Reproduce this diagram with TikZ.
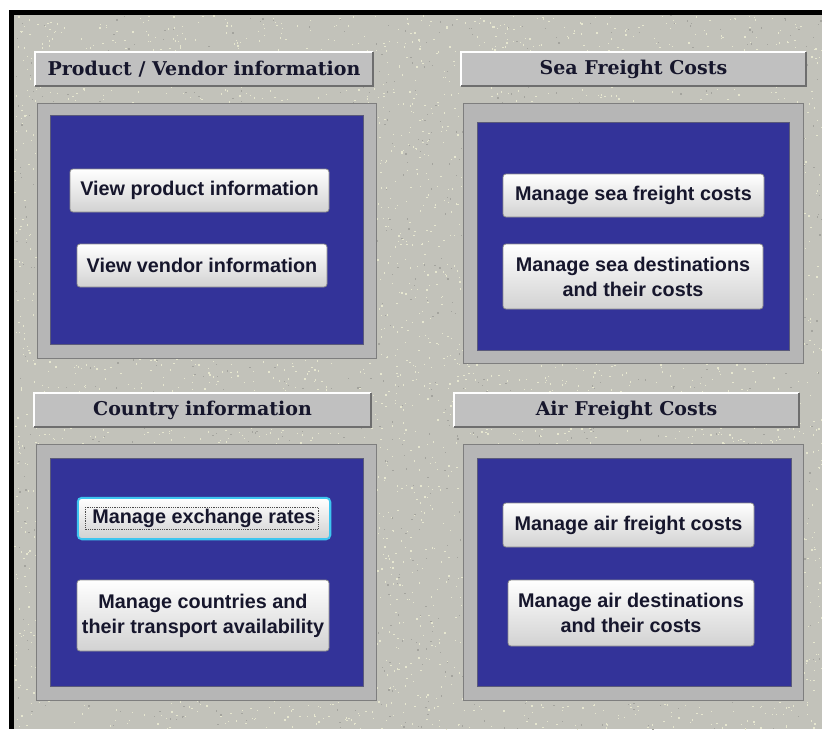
\documentclass[tikz,border=0pt]{standalone}
\usepackage{fontspec}
\newfontfamily\btnfont{Liberation Sans}
\newfontfamily\headfont{DejaVu Serif}
\usetikzlibrary{calc}

\definecolor{FormBg}{HTML}{C2C2BA}
\definecolor{Speck}{HTML}{E6E6CF}
\definecolor{SpeckDark}{HTML}{A4A49E}
\definecolor{HeadGray}{HTML}{C0C0C0}
\definecolor{BevelDark}{HTML}{6E6E6E}
\definecolor{FrameGray}{HTML}{B6B6B6}
\definecolor{FrameEdge}{HTML}{7E7E7E}
\definecolor{PaneBlue}{HTML}{333399}
\definecolor{PaneEdge}{HTML}{5A5A7A}
\definecolor{BtnShade}{HTML}{D2D2D2}
\definecolor{BtnEdge}{HTML}{8C8C8C}
\definecolor{FocusGlow}{HTML}{3EC6F0}
\definecolor{TextInk}{HTML}{16162C}

\begin{document}
\begin{tikzpicture}[
        %Environment config
        x=1pt, y=-1pt,
        %Environment styles
        BoxSize/.style 2 args={minimum width=#1pt, minimum height=#2pt},
        HeadCfg/.style={
            fill=HeadGray, inner sep=0pt, text=TextInk,
            font=\headfont\bfseries\fontsize{19}{22}\selectfont
        },
        FrameCfg/.style={fill=FrameGray, draw=FrameEdge, line width=1pt, inner sep=0pt},
        PaneCfg/.style={fill=PaneBlue, draw=PaneEdge, line width=0.8pt, inner sep=0pt},
        BtnCfg/.style={
            rounded corners=3pt, draw=BtnEdge, line width=0.8pt,
            top color=white, bottom color=BtnShade, inner sep=0pt,
            text=TextInk, align=center,
            font=\btnfont\bfseries\fontsize{19.8}{25}\selectfont
        }
    ]
    \useasboundingbox (0,0) rectangle (822,729);

    %Form background
    \fill[white] (0,0) rectangle (822,729);
    \fill[black] (9,10) rectangle (822,729);
    \fill[FormBg] (13.5,14.5) rectangle (822,729);
    \pgfmathsetseed{11}
    \foreach \k in {1,...,5200}
        \fill[Speck] ({14+808*rnd},{15+714*rnd}) rectangle ++(1.3,1.3);
    \foreach \k in {1,...,1500}
        \fill[SpeckDark] ({14+808*rnd},{15+714*rnd}) rectangle ++(1.3,1.3);

    %Headers, frames and panes
    \path
        (204,69) node[HeadCfg,BoxSize={338}{34}](HeadPV){Product / Vendor information}
        (633.5,69) node[HeadCfg,BoxSize={345}{34}](HeadSea){Sea Freight Costs}
        (202.5,410) node[HeadCfg,BoxSize={337}{34}](HeadCty){Country information}
        (626.5,410) node[HeadCfg,BoxSize={345}{34}](HeadAir){Air Freight Costs}
        (206.5,230.5) node[FrameCfg,BoxSize={339}{255}](FramePV){}
        (633,233) node[FrameCfg,BoxSize={340}{260}](FrameSea){}
        (206,572) node[FrameCfg,BoxSize={340}{256}](FrameCty){}
        (633,572) node[FrameCfg,BoxSize={340}{256}](FrameAir){}
        (206.5,229.5) node[PaneCfg,BoxSize={313}{229}](PanePV){}
        (633,236) node[PaneCfg,BoxSize={312}{228}](PaneSea){}
        (206.5,572) node[PaneCfg,BoxSize={313}{228}](PaneCty){}
        (634,572) node[PaneCfg,BoxSize={314}{228}](PaneAir){};

    \foreach \h in {HeadPV,HeadSea,HeadCty,HeadAir}{
        \draw[white, line width=1.5pt] (\h.south west) -- (\h.north west) -- (\h.north east);
        \draw[BevelDark, line width=2pt] (\h.north east) -- (\h.south east) -- (\h.south west);
    }

    %Buttons
    \draw[FocusGlow, line width=2.5pt, rounded corners=4pt] (78,498) rectangle (330,539);
    \path
        (199.5,190.5) node[BtnCfg,BoxSize={259}{43}](BtnProduct){View product information}
        (202,265.5) node[BtnCfg,BoxSize={250}{43}](BtnVendor){View vendor information}
        (633.5,195.5) node[BtnCfg,BoxSize={261}{43}](BtnSeaCost){Manage sea freight costs}
        (633,276.5) node[BtnCfg,BoxSize={260}{65}](BtnSeaDest){Manage sea destinations\\and their costs}
        (204,518.5) node[BtnCfg,BoxSize={251}{40},draw=FocusGlow](BtnRates){Manage exchange rates}
        (203,615.5) node[BtnCfg,BoxSize={252}{71}](BtnCountry){Manage countries and\\their transport availability}
        (628.5,525) node[BtnCfg,BoxSize={251}{44}](BtnAirCost){Manage air freight costs}
        (631,613) node[BtnCfg,BoxSize={246}{66}](BtnAirDest){Manage air destinations\\and their costs};

    %Focus mark
    \draw[black!70, densely dotted, line width=0.8pt] (85,507) rectangle (318,529);
\end{tikzpicture}
\end{document}
